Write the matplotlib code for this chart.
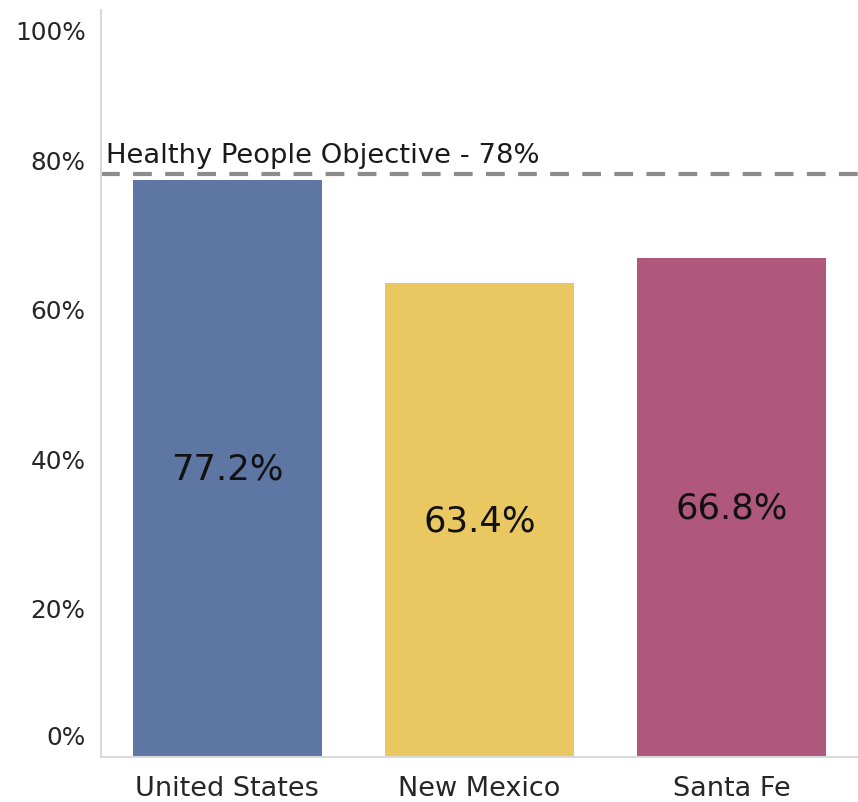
import matplotlib
matplotlib.use("Agg")
import matplotlib.pyplot as plt

regions = ["United States", "New Mexico", "Santa Fe"]
rates = [77.2, 63.4, 66.8]
bar_colors = ["#5e76a3", "#e9c861", "#b0587c"]
objective = 78
objective_label = "Healthy People Objective - 78%"
y_ticks = [0, 20, 40, 60, 80, 100]

plt.rcParams["font.family"] = ["DejaVu Sans"]

fig = plt.figure(figsize=(8.58, 8.03), dpi=100)
ax = fig.add_axes([101 / 858, 45 / 803, 757 / 858, 747 / 803])

x = range(len(regions))
ax.bar(x, rates, width=0.75, color=bar_colors)
ax.set_xlim(-0.5, 2.5)
ax.set_ylim(0, 100)

# objective line
ax.axhline(objective, color="#8c8c8c", linewidth=3, linestyle=(0, (4.5, 3.2)))
ax.text(-0.48, objective + 0.8, objective_label, fontsize=19.7, color="#1a1a1a",
        ha="left", va="bottom")

# value labels in the middle of each bar
for i, v in enumerate(rates):
    ax.text(i, v / 2, "%.1f%%" % v, fontsize=25.5, ha="center", va="center",
            color="#111111")

ax.set_yticks(y_ticks)
# end labels are drawn separately, nudged inward like the original
ax.set_yticklabels(["" if t in (0, 100) else "%d%%" % t for t in y_ticks])
for t, dy in [(0, 20), (100, -22)]:
    ax.annotate("%d%%" % t, xy=(0, t), xycoords=("axes fraction", "data"),
                xytext=(-15, dy), textcoords="offset pixels", ha="right",
                va="center", fontsize=17.8, color="#262626")
ax.set_xticks(list(x))
ax.set_xticklabels(regions, fontsize=19.5)
ax.tick_params(axis="both", length=0, labelcolor="#262626")
ax.tick_params(axis="y", pad=11, labelsize=17.8)
ax.tick_params(axis="x", pad=13)

for side in ["top", "right"]:
    ax.spines[side].set_visible(False)
for side in ["left", "bottom"]:
    ax.spines[side].set_color("#d9d9d9")
    ax.spines[side].set_linewidth(1.5)

fig.savefig("out.png", dpi=100)
